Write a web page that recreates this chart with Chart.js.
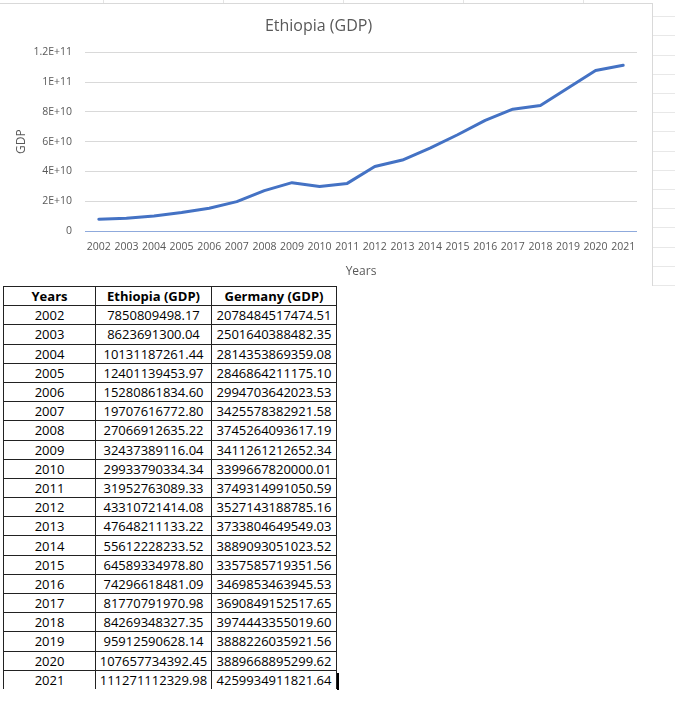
<!DOCTYPE html>
<html>
<head>
<meta charset="utf-8">
<script src="https://cdn.jsdelivr.net/npm/chart.js@4"></script>
<style>
  html, body { margin: 0; padding: 0; background: #fff; }
  body { width: 675px; height: 706px; position: relative; overflow: hidden; font-family: "Open Sans", sans-serif; }
  #sheetLines { position: absolute; left: 653px; top: 0; width: 22px; height: 300px;
    background: repeating-linear-gradient(to bottom, transparent 0, transparent 16.2px, #e8e8e8 16.2px, #e8e8e8 17.2px, transparent 17.2px, transparent 19.2px); }
  #chartBox { position: absolute; left: 0; top: 3px; width: 652px; height: 282px;
    border-top: 1px solid #d9d9d9; border-right: 1px solid #d9d9d9; background: #fff; }
  #topLines { position: absolute; left: 0; top: 0; width: 652px; height: 3px; }
  #topLines span { position: absolute; top: 0; width: 1px; height: 3px; background: #e4e4e4; }
  table { position: absolute; left: 3px; top: 286px; border-collapse: collapse; font-size: 13px; color: #000; }
  td, th { border: 1px solid #222; padding: 0; height: 18.2px; text-align: center; line-height: 18px; }
  th { font-weight: bold; }
  tr:last-child td { border-bottom: none; }
  #cursor { position: absolute; left: 337px; top: 673px; width: 2px; height: 17px; background: #000; }
</style>
</head>
<body>
<div id="sheetLines"></div>
<div id="topLines"><span style="left:103px"></span><span style="left:223px"></span><span style="left:343px"></span><span style="left:463px"></span><span style="left:583px"></span></div>
<div id="chartBox"><canvas id="gdpChart" width="652" height="282"></canvas></div>
<table id="gdpTable">
  <thead><tr><th style="width:91px">Years</th><th style="width:115px">Ethiopia (GDP)</th><th style="width:124px">Germany (GDP)</th></tr></thead>
  <tbody></tbody>
</table>
<div id="cursor"></div>
<script>
const years = ['2002', '2003', '2004', '2005', '2006', '2007', '2008', '2009', '2010', '2011',
               '2012', '2013', '2014', '2015', '2016', '2017', '2018', '2019', '2020', '2021'];
const ethiopiaGdp = [7850809498.17, 8623691300.04, 10131187261.44, 12401139453.97, 15280861834.60,
                     19707616772.80, 27066912635.22, 32437389116.04, 29933790334.34, 31952763089.33,
                     43310721414.08, 47648211133.22, 55612228233.52, 64589334978.80, 74296618481.09,
                     81770791970.98, 84269348327.35, 95912590628.14, 107657734392.45, 111271112329.98];
const germanyGdp = [2078484517474.51, 2501640388482.35, 2814353869359.08, 2846864211175.10, 2994703642023.53,
                    3425578382921.58, 3745264093617.19, 3411261212652.34, 3399667820000.01, 3749314991050.59,
                    3527143188785.16, 3733804649549.03, 3889093051023.52, 3357585719351.56, 3469853463945.53,
                    3690849152517.65, 3974443355019.60, 3888226035921.56, 3889668895299.62, 4259934911821.64];
const yTickLabels = { 0: '0', 2e10: '2E+10', 4e10: '4E+10', 6e10: '6E+10', 8e10: '8E+10', 1e11: '1E+11', 1.2e11: '1.2E+11' };

// table below the chart
const tbody = document.querySelector('#gdpTable tbody');
for (let i = 0; i < years.length; i++) {
    const tr = document.createElement('tr');
    tr.innerHTML = '<td>' + years[i] + '</td><td>' + ethiopiaGdp[i].toFixed(2) + '</td><td>' + germanyGdp[i].toFixed(2) + '</td>';
    tbody.appendChild(tr);
}

const grey = '#595959';
new Chart(document.getElementById('gdpChart').getContext('2d'), {
    type: 'line',
    data: {
        labels: years,
        datasets: [{
            label: 'Ethiopia (GDP)',
            data: ethiopiaGdp,
            borderColor: '#4472C4',
            borderWidth: 3,
            pointRadius: 0,
            tension: 0,
            borderJoinStyle: 'round',
            borderCapStyle: 'round',
            fill: false
        }]
    },
    options: {
        responsive: false,
        animation: false,
        layout: { padding: { left: 0, right: 15, top: 0, bottom: 0 } },
        plugins: {
            legend: { display: false },
            tooltip: { enabled: false },
            title: {
                display: true,
                text: 'Ethiopia (GDP)',
                color: grey,
                font: { family: 'Open Sans', size: 16, weight: 'normal' },
                padding: { top: 13, bottom: 16 }
            }
        },
        scales: {
            x: {
                offset: true,
                grid: { display: false, drawTicks: false },
                border: { display: false },
                ticks: { color: grey, font: { family: 'Open Sans', size: 10.5 }, padding: 10, maxRotation: 0, autoSkip: false },
                title: { display: true, text: 'Years', color: grey, font: { family: 'Open Sans', size: 12 }, padding: { top: 0, bottom: 7 } },
                afterFit: s => { s.height = 55; }
            },
            y: {
                min: 0,
                max: 1.2e11,
                grid: {
                    drawTicks: false,
                    color: ctx => ctx.tick && ctx.tick.value === 0 ? '#8FAADC' : '#d9d9d9',
                    lineWidth: 1
                },
                border: { display: false },
                ticks: {
                    stepSize: 2e10,
                    color: grey,
                    padding: 13,
                    font: { family: 'Open Sans', size: 10.5 },
                    callback: v => yTickLabels[v] !== undefined ? yTickLabels[v] : ''
                },
                title: { display: true, text: 'GDP', color: grey, font: { family: 'Open Sans', size: 12 }, padding: { top: 14, bottom: 0 } },
                afterFit: s => { s.width = 85; }
            }
        }
    }
});
</script>
</body>
</html>
